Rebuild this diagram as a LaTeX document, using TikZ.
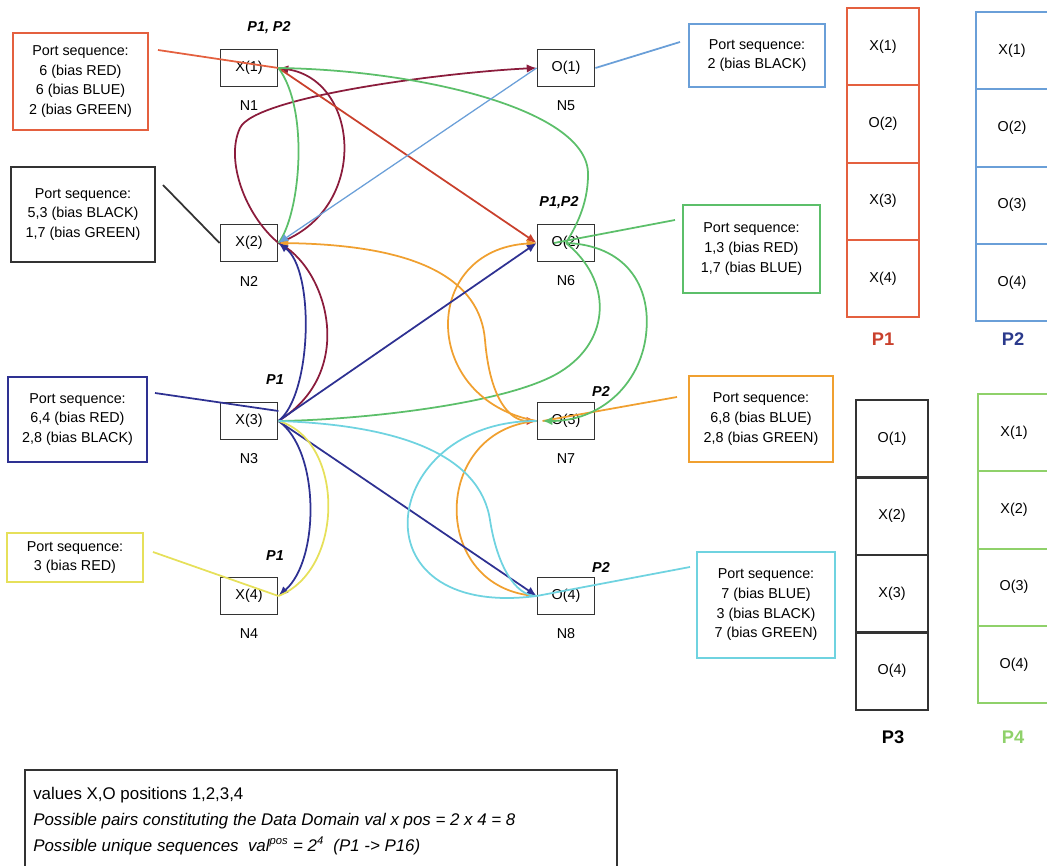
\documentclass[tikz,border=0pt]{standalone}
\usepackage{fontspec}
\setmainfont{Liberation Sans}
\usepackage{xcolor}
\usepackage{tikz}
\usetikzlibrary{arrows.meta, calc}
\definecolor{ruby}{HTML}{E4603F}
\definecolor{rust}{HTML}{C9402C}
\definecolor{wine}{HTML}{8B1C3C}
\definecolor{leaf}{HTML}{5CBF6A}
\definecolor{amber}{HTML}{F0A030}
\definecolor{indigo}{HTML}{2E3192}
\definecolor{sky}{HTML}{6A9FD8}
\definecolor{lemon}{HTML}{E6E05A}
\definecolor{aqua}{HTML}{6FD3E0}
\definecolor{ink}{HTML}{333333}
\definecolor{navyp}{HTML}{2B3A8C}
\definecolor{lime}{HTML}{8FD16A}
\tikzstyle{nodebox}=[draw=ink, line width=1.3pt, minimum width=1.425cm, minimum height=0.925cm, inner sep=0pt, font=\fontsize{10.2}{12}\selectfont]
\tikzstyle{portbox}=[line width=1.4pt, inner sep=0pt, align=center, font=\fontsize{10.2}{14}\selectfont]
\tikzstyle{cell}=[line width=1.4pt, minimum width=1.8cm, minimum height=1.9325cm, inner sep=0pt, font=\fontsize{10.2}{12}\selectfont]
\tikzstyle{edge}=[line width=1.25pt]
\tikzstyle{arr}=[-{Latex[length=7pt,width=6pt]}]
\tikzstyle{nlabel}=[inner sep=0pt, font=\fontsize{10.2}{12}\selectfont]
\tikzstyle{plabel}=[inner sep=0pt, font=\fontsize{10.2}{12}\selectfont\bfseries\itshape]
\tikzstyle{seqlabel}=[inner sep=0pt, font=\fontsize{13}{15}\selectfont\bfseries]
\tikzstyle{note}=[anchor=base west, inner sep=0pt, font=\fontsize{12}{14}\selectfont]

\begin{document}
\begin{tikzpicture}[x=0.025cm, y=-0.025cm]
  \useasboundingbox (0,0) rectangle (1047,866);
  \clip (0,0) rectangle (1047,866);

  % graph nodes and their names
  \foreach \nm/\val/\x/\y in {N1/X(1)/249/68, N2/X(2)/249/243, N3/X(3)/249/421, N4/X(4)/249/596,
                             N5/O(1)/566/68, N6/O(2)/566/243, N7/O(3)/566/421, N8/O(4)/566/596}{
    \node[nodebox] (\nm) at (\x,\y) {\val};
    \node[nlabel] (lab\nm) at (\x,\y+38) {\nm};
  }
  \node[plabel] (pN1) at (269,28) {P1, P2};
  \node[plabel] (pN6) at (559,203) {P1,P2};
  \node[plabel] (pN3) at (275,380) {P1};
  \node[plabel] (pN4) at (275,556) {P1};
  \node[plabel] (pN7) at (601,391) {P2};
  \node[plabel] (pN8) at (601,567) {P2};

  % port sequence boxes
  \node[portbox, draw=ruby, minimum width=3.375cm, minimum height=2.425cm] (seqN1) at (80.5,81.5)
    {Port sequence:\\6 (bias RED)\\6 (bias BLUE)\\2 (bias GREEN)};
  \node[portbox, draw=ink, minimum width=3.6cm, minimum height=2.375cm] (seqN2) at (83,214.5)
    {Port sequence:\\5,3 (bias BLACK)\\1,7 (bias GREEN)};
  \node[portbox, draw=indigo, minimum width=3.475cm, minimum height=2.125cm] (seqN3) at (77.5,419.5)
    {Port sequence:\\6,4 (bias RED)\\2,8 (bias BLACK)};
  \node[portbox, draw=lemon, minimum width=3.4cm, minimum height=1.225cm] (seqN4) at (75,557.5)
    {Port sequence:\\3 (bias RED)};
  \node[portbox, draw=sky, minimum width=3.4cm, minimum height=1.575cm] (seqN5) at (757,55.5)
    {Port sequence:\\2 (bias BLACK)};
  \node[portbox, draw=leaf, minimum width=3.425cm, minimum height=2.2cm] (seqN6) at (751.5,249)
    {Port sequence:\\1,3 (bias RED)\\1,7 (bias BLUE)};
  \node[portbox, draw=amber, minimum width=3.6cm, minimum height=2.15cm] (seqN7) at (761,419)
    {Port sequence:\\6,8 (bias BLUE)\\2,8 (bias GREEN)};
  \node[portbox, draw=aqua, minimum width=3.45cm, minimum height=2.65cm] (seqN8) at (766,605)
    {Port sequence:\\7 (bias BLUE)\\3 (bias BLACK)\\7 (bias GREEN)};

  % pointers from the boxes
  \coordinate (tN1) at (158,50);
  \coordinate (tN2) at (163,185);
  \coordinate (tN3) at (155,393);
  \coordinate (tN4) at (153,552);
  \coordinate (tN5) at (680,42);
  \coordinate (tN6) at (675,220);
  \coordinate (tN7) at (677,397);
  \coordinate (tN8) at (690,567);
  \draw[edge, ruby] (tN1) -- (N1.east);
  \draw[edge, ink] (tN2) -- (N2.west);
  \draw[edge, indigo] (tN3) -- ([yshift=0.25cm]N3.east);
  \draw[edge, lemon] (tN4) -- (N4.east);
  \draw[edge, sky] (N5.east) -- (tN5);
  \draw[edge, leaf] (tN6) -- ([xshift=-0.3cm]N6.center);
  \draw[edge, amber] (tN7) -- ([xshift=0.15cm]N7.west);
  \draw[edge, aqua] (N8.west) -- (tN8);

  % red bias
  \draw[edge, wine, arr] (N2.east) .. controls (370,210) and (360,80) .. (N1.east);
  \draw[edge, wine, arr] (N2.east) .. controls (245,215) and (225,160) .. (240,128)
    .. controls (255,96) and (450,72) .. (N5.west);
  \draw[edge, wine] (N2.east) .. controls (325,265) and (360,370) .. (N3.east);
  \draw[edge, rust, arr] (N1.east) -- (N6.west);

  % green bias
  \draw[edge, leaf] (N2.east) .. controls (300,215) and (310,110) .. (N1.east);
  \draw[edge, leaf] (N1.east) .. controls (420,70) and (590,110) .. (588,175)
    .. controls (588,205) and (575,228) .. (N6.center);
  \draw[edge, leaf] (N6.center) .. controls (612,280) and (612,340) .. (560,372)
    .. controls (508,404) and (360,420) .. (N3.east);
  \draw[edge, leaf, arr] (N6.center) .. controls (625,245) and (652,285) .. (646,335)
    .. controls (640,385) and (600,421) .. ([xshift=0.15cm]N7.west);

  % orange
  \draw[edge, amber, {Latex[length=7pt,width=6pt]}-{Latex[length=7pt,width=6pt,color=rust]}]
    (N2.east) .. controls (420,245) and (480,280) .. (485,340)
    .. controls (490,400) and (510,421) .. (N7.west);
  \draw[edge, amber, arr] (N7.west) .. controls (420,400) and (420,250) .. (N6.west);
  \draw[edge, amber] (N7.west) .. controls (430,430) and (430,590) .. (N8.west);

  % blue bias
  \draw[edge, indigo, arr] (N3.east) .. controls (312,395) and (315,270) .. (N2.east);
  \draw[edge, indigo, arr] (N3.east) -- (N6.west);
  \draw[edge, indigo, arr] (N3.east) -- (N8.west);
  \draw[edge, indigo, arr] (N3.east) .. controls (320,450) and (320,560) .. (N4.east);

  % black bias
  \draw[line width=0.9pt, sky, arr] (N5.west) -- (N2.east);
  \draw[edge, lemon] (N3.east) .. controls (345,440) and (345,570) .. (N4.east);
  \draw[edge, aqua] (N3.east) .. controls (400,425) and (480,455) .. (490,520)
    .. controls (497,565) and (515,596) .. (N8.west);
  \draw[edge, aqua] (N7.west) .. controls (380,420) and (350,620) .. (N8.west);

  % sequences P1..P4
  \foreach \v [count=\i] in {X(1),O(2),X(3),X(4)}
    \node[cell, draw=ruby] (P1c\i) at (883,{8+77.3*(\i-0.5)}) {\v};
  \foreach \v [count=\i] in {X(1),O(2),O(3),O(4)}
    \node[cell, draw=sky] (P2c\i) at (1012,{12+77.3*(\i-0.5)}) {\v};
  \foreach \v [count=\i] in {O(1),X(2),X(3),O(4)}
    \node[cell, draw=ink] (P3c\i) at (892,{400+77.5*(\i-0.5)}) {\v};
  \foreach \v [count=\i] in {X(1),X(2),O(3),O(4)}
    \node[cell, draw=lime] (P4c\i) at (1014,{394+77.3*(\i-0.5)}) {\v};
  \node[seqlabel, text=rust] (P1t) at (883,339) {P1};
  \node[seqlabel, text=navyp] (P2t) at (1013,339) {P2};
  \node[seqlabel, text=black] (P3t) at (893,737) {P3};
  \node[seqlabel, text=lime] (P4t) at (1013,737) {P4};

  % data domain note
  \draw[line width=1.4pt, ink] (25,770) rectangle (617,900);
  \node[note] (note1) at (33,799) {values X,O positions 1,2,3,4};
  \node[note, font=\fontsize{12}{14}\selectfont\itshape] (note2) at (33,825)
    {Possible pairs constituting the Data Domain val x pos = 2 x 4 = 8};
  \node[note, font=\fontsize{12}{14}\selectfont\itshape] (note3) at (33,851)
    {Possible unique sequences\ \ val\textsuperscript{pos} = 2\textsuperscript{4}\ \ (P1 -{}> P16)};
\end{tikzpicture}
\end{document}
